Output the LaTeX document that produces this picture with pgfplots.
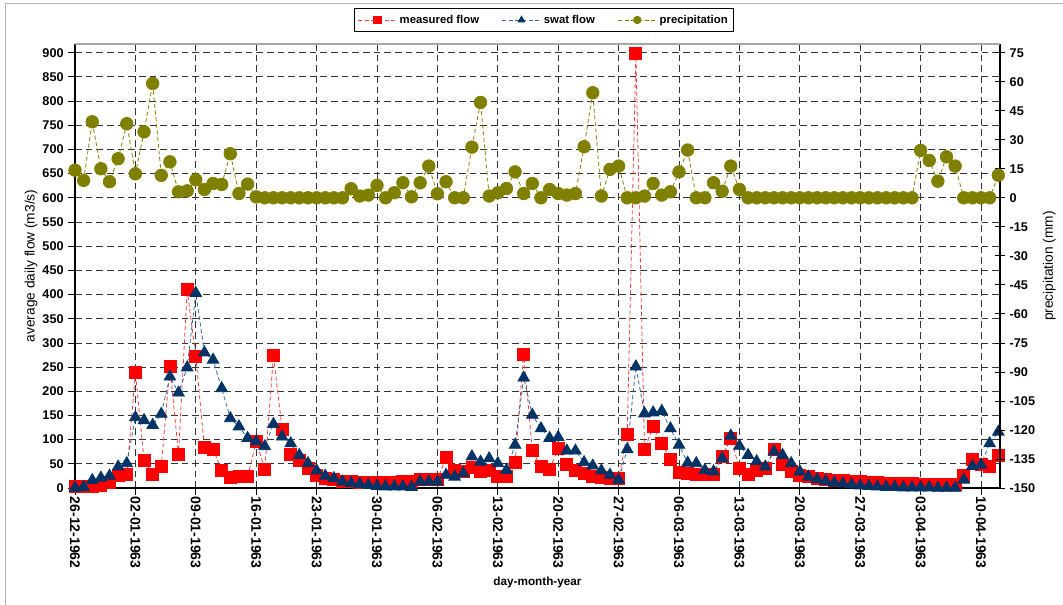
\documentclass[border=0pt]{standalone}
\usepackage{pgfplots}
\pgfplotsset{compat=1.18}
\usepackage{pgfplotstable}
\usepackage{fontspec}
\setmainfont{Liberation Sans}
\definecolor{mred}{RGB}{255,0,0}
\definecolor{mredline}{RGB}{255,60,60}
\definecolor{navy}{RGB}{0,51,102}
\definecolor{navyline}{RGB}{51,102,153}
\definecolor{olivec}{RGB}{128,128,0}

\pgfplotstableread{
d m s p
0 3 0 14.3
1 3 2 9.0
2 4 16 39.3
3 6 21 15
4 11 25 8.3
5 27 44 20.2
6 28 51 38.3
7 239 146 12.4
8 58 140 34.1
9 28 130 59.1
10 45 153 11.6
11 251 230 18.6
12 70 197 3.1
13 410 249 3.6
14 272 403 9.3
15 83 280 4.3
16 80 265 7.4
17 37 206 6.9
18 22 144 22.8
19 25 127 2.2
20 23 103 7.1
21 96 96 0.5
22 39 86 0
23 274 132 0
24 122 106 0
25 70 92 0
26 57 68 0
27 40 51 0
28 27 36 0
29 20 25 0
30 17 20 0
31 14 13 0
32 13 10 4.7
33 12 8 0.9
34 12 6 1.4
35 12 4 6.4
36 12 3 0
37 12 3 2.6
38 13 3 7.8
39 13 2 0.5
40 17 13 7.8
41 18 13 16.4
42 17 13 2.1
43 63 27 8.3
44 36 23 0
45 34 30 0
46 43 65 26.2
47 34 54 49.3
48 37 61 0.9
49 25 51 2.6
50 23 37 4.8
51 52 89 13.4
52 277 228 2.2
53 77 151 7.4
54 44 123 0
55 39 103 4.3
56 82 105 2.2
57 49 77 1.4
58 37 77 2.2
59 30 53 26.4
60 23 46 54.3
61 21 36 0.9
62 20 27 14.7
63 20 17 16.4
64 110 80 0
65 899 251 0
66 80 154 0.9
67 127 156 7.4
68 92 159 1.4
69 60 123 3.1
70 32 89 13.4
71 30 52 24.7
72 28 51 0
73 28 37 0
74 28 34 7.8
75 66 61 3.4
76 103 108 16.4
77 41 87 4.3
78 28 68 0
79 36 55 0
80 40 44 0
81 79 75 0
82 48 68 0
83 34 51 0
84 27 34 0
85 23 23 0
86 20 18 0
87 18 14 0
88 16 11 0
89 15 9 0
90 14 7 0
91 13 5 0
92 12 4 0
93 11 3 0
94 10 2 0
95 10 2 0
96 9 1 0
97 9 1 0
98 8 1 24.5
99 8 1 19.3
100 8 0 8.6
101 8 0 21.2
102 8 0 16.4
103 27 17 0
104 60 45 0
105 48 48 0
106 44 92 0
107 68 116 11.7
}\data

\pgfplotsset{
  measstyle/.style={color=mredline, line width=0.6pt, dash pattern=on 3pt off 2pt, mark=square*, mark size=4.5pt, mark options={solid, fill=mred, draw=mred}},
  swatstyle/.style={color=navyline, line width=0.6pt, dash pattern=on 3pt off 2pt, mark=triangle*, mark size=5pt, mark options={solid, fill=navy, draw=navy}},
  precstyle/.style={color=olivec, line width=0.6pt, dash pattern=on 3pt off 2pt, mark=*, mark size=4.7pt, mark options={solid, fill=olivec, draw=olivec}},
}

\begin{document}
\begin{tikzpicture}[x=1pt,y=1pt]
\path[use as bounding box] (-56.25,-87) rectangle (741,366);
\begin{axis}[
  at={(0,0)}, anchor=south west, scale only axis,
  width=693.75pt, height=333pt,
  xmin=0, xmax=107.2, ymin=0, ymax=918,
  clip=false,
  axis x line*=bottom, axis y line*=left,
  axis line style={line width=1.1pt, black},
  xtick={0,7,...,105},
  xticklabels={26-12-1962,02-01-1963,09-01-1963,16-01-1963,23-01-1963,30-01-1963,06-02-1963,13-02-1963,20-02-1963,27-02-1963,06-03-1963,13-03-1963,20-03-1963,27-03-1963,03-04-1963,10-04-1963},
  xticklabel style={rotate=-90, anchor=west, font=\bfseries\fontsize{10.5}{12}\selectfont, inner sep=1.5pt},
  ytick={0,50,...,900},
  yticklabel style={font=\bfseries\fontsize{9.5}{11}\selectfont},
  /pgf/number format/assume math mode=true,
  tick style={black, line width=0.6pt},
  tick align=outside, major tick length=5pt,
  grid=major,
  major grid style={black!80, line width=0.6pt, dash pattern=on 5pt off 3pt},
  xlabel={day-month-year},
  xlabel style={at={([yshift=-71pt]axis description cs:0.5,0)}, anchor=center, font=\bfseries\fontsize{8.8}{10}\selectfont},
  ylabel={average daily flow (m3/s)},
  ylabel style={at={([xshift=-33pt]axis description cs:0,0.5)}, anchor=center, font=\fontsize{10.3}{12}\selectfont},
  legend style={at={(0.507,1.028)}, anchor=south, legend columns=3, draw=black, line width=0.7pt,
    font=\bfseries\fontsize{8.5}{10}\selectfont, inner sep=2.5pt,
    /tikz/every even column/.append style={column sep=15pt}},
  legend image code/.code={\draw[mark repeat=2, mark phase=2, #1, mark size=2.8pt] plot coordinates {(0pt,0pt) (14.5pt,0pt) (29pt,0pt)};},
]
\addplot[measstyle] table[x=d, y=m] {\data};
\addlegendentry{measured flow}
\addplot[swatstyle] table[x=d, y=s] {\data};
\addlegendentry{swat flow}
\addlegendimage{precstyle}
\addlegendentry{precipitation}
\end{axis}
\begin{axis}[
  at={(0,0)}, anchor=south west, scale only axis,
  width=693.75pt, height=333pt,
  xmin=0, xmax=107.2, ymin=-150, ymax=79.5,
  clip=false,
  axis y line*=right, axis x line=none,
  axis line style={line width=1.1pt, black},
  ytick={-150,-135,...,75},
  yticklabel style={font=\bfseries\fontsize{9.5}{11}\selectfont},
  /pgf/number format/assume math mode=true,
  tick style={black, line width=0.6pt},
  tick align=center, major tick length=7.5pt,
  ylabel={precipitation (mm)},
  ylabel style={at={([xshift=37pt]axis description cs:1,0.5)}, anchor=center, font=\fontsize{10.3}{12}\selectfont},
]
\addplot[precstyle] table[x=d, y=p] {\data};
\end{axis}
\draw[gray!70, line width=0.8pt] (0,333) -- (693.75,333);
\draw[gray!60, line width=0.8pt] (-52.1,-90) -- (-52.1,363.5) -- (745,363.5);
\end{tikzpicture}
\end{document}
